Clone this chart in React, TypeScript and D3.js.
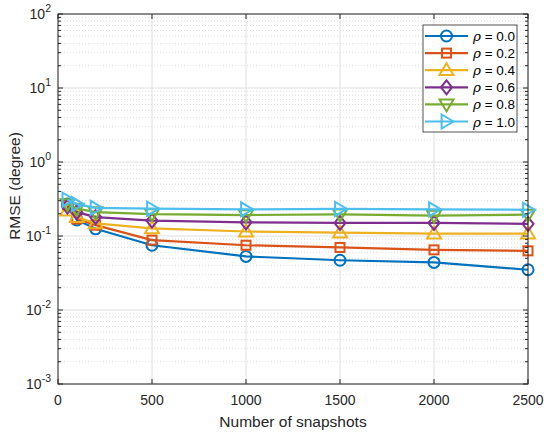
// @ts-nocheck
import { useRef, useEffect } from "react";
import * as d3 from "d3";

const snapshots = [50, 100, 200, 500, 1000, 1500, 2000, 2500];
const rho00 = [0.27, 0.165, 0.125, 0.075, 0.053, 0.047, 0.044, 0.035];
const rho02 = [0.26, 0.17, 0.14, 0.088, 0.075, 0.07, 0.065, 0.063];
const rho04 = [0.22, 0.18, 0.148, 0.127, 0.115, 0.111, 0.108, 0.108];
const rho06 = [0.25, 0.21, 0.18, 0.161, 0.153, 0.15, 0.15, 0.146];
const rho08 = [0.27, 0.235, 0.21, 0.198, 0.192, 0.196, 0.188, 0.194];
const rho10 = [0.31, 0.27, 0.24, 0.234, 0.229, 0.232, 0.229, 0.226];
const seriesLabels = ["0.0", "0.2", "0.4", "0.6", "0.8", "1.0"];
const xTicks = [0, 500, 1000, 1500, 2000, 2500];
const yExponents = [-3, -2, -1, 0, 1, 2];

const series = [
  { values: rho00, color: "#0072BD", marker: "circle" },
  { values: rho02, color: "#D95319", marker: "square" },
  { values: rho04, color: "#EDB120", marker: "triUp" },
  { values: rho06, color: "#7E2F8E", marker: "diamond" },
  { values: rho08, color: "#77AC30", marker: "triDown" },
  { values: rho10, color: "#4DBEEE", marker: "triRight" },
];

const drawMarker = (g, type, cx, cy, color) => {
  const sw = 2;
  if (type === "circle") {
    g.append("circle").attr("cx", cx).attr("cy", cy).attr("r", 5.5)
      .attr("fill", "none").attr("stroke", color).attr("stroke-width", sw);
  } else if (type === "square") {
    g.append("rect").attr("x", cx - 4.5).attr("y", cy - 4.5).attr("width", 9).attr("height", 9)
      .attr("fill", "none").attr("stroke", color).attr("stroke-width", sw);
  } else {
    let pts;
    const s = 7;
    if (type === "triUp") pts = [[cx, cy - s], [cx + s, cy + s * 0.7], [cx - s, cy + s * 0.7]];
    if (type === "triDown") pts = [[cx, cy + s], [cx + s, cy - s * 0.7], [cx - s, cy - s * 0.7]];
    if (type === "triRight") pts = [[cx + s, cy], [cx - s * 0.7, cy - s], [cx - s * 0.7, cy + s]];
    if (type === "diamond") pts = [[cx, cy - 7], [cx + 5.5, cy], [cx, cy + 7], [cx - 5.5, cy]];
    g.append("polygon").attr("points", pts.map((p) => p.join(",")).join(" "))
      .attr("fill", "none").attr("stroke", color).attr("stroke-width", sw)
      .attr("stroke-linejoin", "miter");
  }
};

export default function App() {
  const ref = useRef(null);

  useEffect(() => {
    const svg = d3.select(ref.current);
    svg.selectAll("*").remove();

    const left = 58, right = 528, top = 14, bottom = 384;
    const font = "'Liberation Sans', Arial, sans-serif";

    const x = d3.scaleLinear().domain([0, 2500]).range([left, right]);
    const y = d3.scaleLog().domain([1e-3, 1e2]).range([bottom, top]);

    svg.append("rect").attr("x", left).attr("y", top)
      .attr("width", right - left).attr("height", bottom - top).attr("fill", "#fff");

    // minor grid (dotted)
    const minors = [];
    for (let e = -3; e < 2; e++) for (let m = 2; m <= 9; m++) minors.push(m * Math.pow(10, e));
    const grid = svg.append("g");
    minors.forEach((v) => {
      grid.append("line").attr("x1", left).attr("x2", right).attr("y1", y(v)).attr("y2", y(v))
        .attr("stroke", "#d6d6d6").attr("stroke-width", 0.8).attr("stroke-dasharray", "1,2");
    });
    yExponents.forEach((e) => {
      grid.append("line").attr("x1", left).attr("x2", right)
        .attr("y1", y(Math.pow(10, e))).attr("y2", y(Math.pow(10, e)))
        .attr("stroke", "#e0e0e0").attr("stroke-width", 1);
    });
    xTicks.forEach((t) => {
      grid.append("line").attr("x1", x(t)).attr("x2", x(t)).attr("y1", top).attr("y2", bottom)
        .attr("stroke", "#e0e0e0").attr("stroke-width", 1);
    });

    // series
    const line = d3.line().x((d) => x(d[0])).y((d) => y(d[1]));
    series.forEach((s) => {
      const pts = snapshots.map((n, i) => [n, s.values[i]]);
      svg.append("path").datum(pts).attr("fill", "none").attr("stroke", s.color)
        .attr("stroke-width", 2.2).attr("d", line);
      const mg = svg.append("g");
      pts.forEach((p) => drawMarker(mg, s.marker, x(p[0]), y(p[1]), s.color));
    });

    // box and ticks
    const axisColor = "#262626";
    svg.append("rect").attr("x", left).attr("y", top)
      .attr("width", right - left).attr("height", bottom - top)
      .attr("fill", "none").attr("stroke", axisColor).attr("stroke-width", 1);

    const tk = svg.append("g").attr("stroke", axisColor).attr("stroke-width", 1);
    xTicks.forEach((t) => {
      tk.append("line").attr("x1", x(t)).attr("x2", x(t)).attr("y1", bottom).attr("y2", bottom - 5);
      tk.append("line").attr("x1", x(t)).attr("x2", x(t)).attr("y1", top).attr("y2", top + 5);
    });
    yExponents.forEach((e) => {
      const yy = y(Math.pow(10, e));
      tk.append("line").attr("x1", left).attr("x2", left + 5).attr("y1", yy).attr("y2", yy);
      tk.append("line").attr("x1", right).attr("x2", right - 5).attr("y1", yy).attr("y2", yy);
    });
    minors.forEach((v) => {
      tk.append("line").attr("x1", left).attr("x2", left + 3).attr("y1", y(v)).attr("y2", y(v));
      tk.append("line").attr("x1", right).attr("x2", right - 3).attr("y1", y(v)).attr("y2", y(v));
    });

    // tick labels
    xTicks.forEach((t) => {
      svg.append("text").attr("x", x(t)).attr("y", bottom + 21).attr("text-anchor", "middle")
        .attr("font-family", font).attr("font-size", 14).attr("fill", axisColor).text(t);
    });
    yExponents.forEach((e) => {
      const yy = y(Math.pow(10, e));
      const t = svg.append("text").attr("x", left - 7).attr("y", yy + 5).attr("text-anchor", "end")
        .attr("font-family", font).attr("font-size", 14).attr("fill", axisColor);
      t.append("tspan").text("10");
      t.append("tspan").attr("dy", -7).attr("font-size", 10.5).text(e);
    });

    svg.append("text").attr("x", (left + right) / 2).attr("y", 427).attr("text-anchor", "middle")
      .attr("font-family", font).attr("font-size", 15.5).attr("fill", axisColor)
      .text("Number of snapshots");
    svg.append("text").attr("transform", `translate(20,186) rotate(-90)`)
      .attr("text-anchor", "middle").attr("font-family", font).attr("font-size", 15.5)
      .attr("fill", axisColor).text("RMSE (degree)");

    // legend
    const lg = svg.append("g");
    lg.append("rect").attr("x", 423).attr("y", 25).attr("width", 94).attr("height", 107)
      .attr("fill", "#fff").attr("stroke", axisColor).attr("stroke-width", 0.8);
    series.forEach((s, i) => {
      const ly = 36 + i * 17.1;
      lg.append("line").attr("x1", 425).attr("x2", 468).attr("y1", ly).attr("y2", ly)
        .attr("stroke", s.color).attr("stroke-width", 2.2);
      drawMarker(lg, s.marker, 446.5, ly, s.color);
      const t = lg.append("text").attr("x", 473).attr("y", ly + 5)
        .attr("font-family", font).attr("font-size", 13.5).attr("fill", "#000");
      t.append("tspan").attr("font-style", "italic").attr("font-family", "'DejaVu Serif', serif").text("ρ");
      t.append("tspan").text(" = " + seriesLabels[i]);
    });
  }, []);

  return <svg ref={ref} width={550} height={436} style={{ position: "absolute", left: 0, top: 0 }}></svg>;
}
